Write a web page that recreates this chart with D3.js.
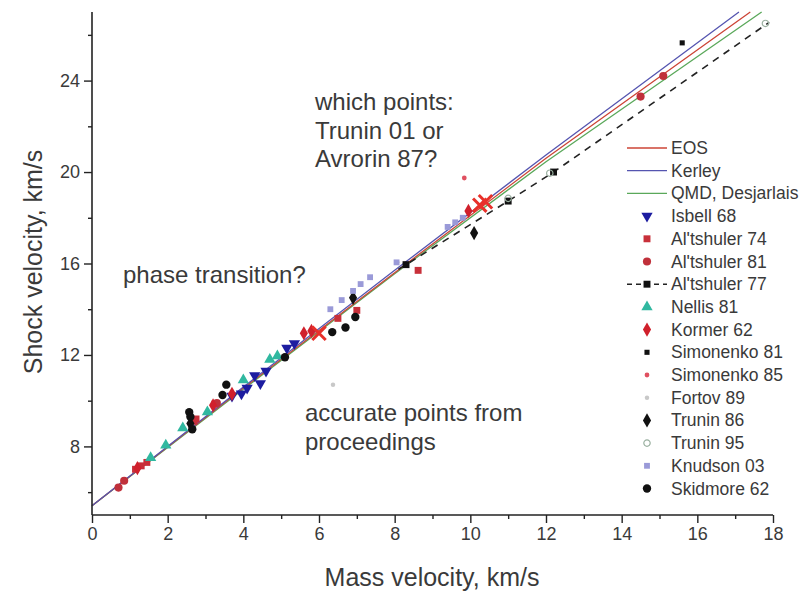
<!DOCTYPE html>
<html lang="en">
<head>
<meta charset="UTF-8">
<title>Shock velocity vs mass velocity</title>
<script src="https://d3js.org/d3.v7.min.js"></script>
<style>
  body { margin: 0; background: #fff; }
  svg text { font-family: "Liberation Sans", Arial, sans-serif; fill: #3a3a3a; }
</style>
</head>
<body>
<div id="chart"></div>
<script>
// ---- data (mass velocity u, shock velocity Us), km/s ----
var xTicks = [0, 2, 4, 6, 8, 10, 12, 14, 16, 18];
var xMinor = [1, 3, 5, 7, 9, 11, 13, 15, 17];
var yTicks = [8, 12, 16, 20, 24];
var yMinor = [6, 10, 14, 18, 22, 26];

// model curves
var eosU = [0, 4, 8, 12, 17.4];
var eosUs = [5.4, 10.55, 15.6, 20.6, 27.0];
var kerleyU = [0, 4, 8, 12, 17.1];
var kerleyUs = [5.4, 10.6, 15.7, 20.75, 27.0];
var qmdU = [0, 4, 8, 12, 17.7];
var qmdUs = [5.4, 10.5, 15.55, 20.45, 27.0];

// experiments
var isbellU = [3.7, 3.95, 4.1, 4.45, 4.3, 4.6, 5.15, 5.35];
var isbellUs = [10.2, 10.3, 10.55, 10.75, 11.1, 11.3, 12.3, 12.5];
var alt74U = [1.15, 1.3, 1.45, 2.7, 2.75, 3.25, 6.5, 7.0, 8.62];
var alt74Us = [7.0, 7.15, 7.3, 9.1, 9.2, 9.85, 13.6, 13.95, 15.7];
var alt81U = [0.7, 0.85, 3.3, 14.5, 15.1];
var alt81Us = [6.2, 6.5, 9.9, 23.3, 24.2];
var alt77U = [8.3, 11.0, 12.2];
var alt77Us = [15.95, 18.73, 20.0];
var alt77LineU = [8.1, 8.3, 11.0, 12.2, 17.9];
var alt77LineUs = [15.75, 15.95, 18.73, 20.0, 26.55];
var nellisU = [1.55, 1.95, 2.4, 3.05, 4.0, 4.7, 4.9];
var nellisUs = [7.5, 8.05, 8.8, 9.5, 10.9, 11.8, 11.95];
var kormerU = [1.2, 3.2, 3.7, 5.6, 5.8, 9.95];
var kormerUs = [7.05, 9.8, 10.3, 12.95, 13.05, 18.3];
var simon81U = [15.6];
var simon81Us = [25.65];
var simon85U = [9.84];
var simon85Us = [19.74];
var fortovU = [6.37, 8.07];
var fortovUs = [10.7, 16.05];
var trunin86U = [2.6, 6.9, 10.1];
var trunin86Us = [9.0, 14.5, 17.33];
var trunin95U = [11.0, 12.1, 17.8];
var trunin95Us = [18.85, 19.95, 26.5];
var knudsonU = [6.3, 6.6, 6.9, 7.1, 7.35, 8.05, 9.4, 9.6, 9.8];
var knudsonUs = [14.0, 14.4, 14.8, 15.1, 15.4, 16.05, 17.6, 17.8, 18.0];
var skidU = [2.57, 2.6, 2.65, 3.45, 3.55, 5.1, 6.35, 6.7, 6.96];
var skidUs = [9.5, 9.3, 8.75, 10.25, 10.7, 11.9, 13.0, 13.2, 13.66];
// X marks: Trunin 01 / Avrorin 87 (not in legend)
var crossU = [6.0, 10.25, 10.4];
var crossUs = [12.95, 18.55, 18.7];

function zip(a, b) { return a.map(function(d, i) { return [d, b[i]]; }); }

var width = 806, height = 594;
var svg = d3.select("#chart").append("svg")
    .attr("width", width)
    .attr("height", height);

var x = d3.scaleLinear().domain([0, 18]).range([92, 773]);
var y = d3.scaleLinear().domain([5, 27]).range([515, 12]);

var line = d3.line()
    .x(function(d) { return x(d[0]); })
    .y(function(d) { return y(d[1]); });

// model lines
var curves = [
  { name: "QMD, Desjarlais", color: "#5aa85a", pts: zip(qmdU, qmdUs) },
  { name: "EOS", color: "#cc4436", pts: zip(eosU, eosUs) },
  { name: "Kerley", color: "#5555b0", pts: zip(kerleyU, kerleyUs) }
];
curves.forEach(function(c) {
  svg.append("path")
    .attr("d", line(c.pts))
    .attr("fill", "none")
    .attr("stroke", c.color)
    .attr("stroke-width", 1.3);
});

svg.append("path")
  .attr("d", line(zip(alt77LineU, alt77LineUs)))
  .attr("fill", "none")
  .attr("stroke", "#222")
  .attr("stroke-width", 1.6)
  .attr("stroke-dasharray", "7,6");

// point series
var series = [
  { name: "Isbell 68", sym: d3.symbolTriangle, rot: 180, size: 55, fill: "#1c1ca0", u: isbellU, us: isbellUs },
  { name: "Al'tshuler 74", sym: d3.symbolSquare, size: 48, fill: "#c8303a", u: alt74U, us: alt74Us },
  { name: "Al'tshuler 81", sym: d3.symbolCircle, size: 52, fill: "#c0303a", u: alt81U, us: alt81Us },
  { name: "Al'tshuler 77", sym: d3.symbolSquare, size: 48, fill: "#111", u: alt77U, us: alt77Us, dashed: true },
  { name: "Nellis 81", sym: d3.symbolTriangle, size: 55, fill: "#30b8a0", u: nellisU, us: nellisUs },
  { name: "Kormer 62", sym: d3.symbolDiamond, size: 58, fill: "#d0202c", u: kormerU, us: kormerUs },
  { name: "Simonenko 81", sym: d3.symbolSquare, size: 26, fill: "#111", u: simon81U, us: simon81Us },
  { name: "Simonenko 85", sym: d3.symbolCircle, size: 18, fill: "#e05060", u: simon85U, us: simon85Us },
  { name: "Fortov 89", sym: d3.symbolCircle, size: 16, fill: "#c8c8c8", u: fortovU, us: fortovUs },
  { name: "Trunin 86", sym: d3.symbolDiamond, size: 58, fill: "#111", u: trunin86U, us: trunin86Us },
  { name: "Trunin 95", sym: d3.symbolCircle, size: 32, fill: "none", stroke: "#9ab0a0", u: trunin95U, us: trunin95Us },
  { name: "Knudson 03", sym: d3.symbolSquare, size: 34, fill: "#9a9ad8", u: knudsonU, us: knudsonUs },
  { name: "Skidmore 62", sym: d3.symbolCircle, size: 55, fill: "#111", u: skidU, us: skidUs }
];

function drawSym(g, s, px, py) {
  g.append("path")
    .attr("d", d3.symbol().type(s.sym).size(s.size)())
    .attr("transform", "translate(" + px + "," + py + ")" + (s.rot ? " rotate(" + s.rot + ")" : ""))
    .attr("fill", s.fill)
    .attr("stroke", s.stroke || "none")
    .attr("stroke-width", 1.2);
}

var pts = svg.append("g");
series.forEach(function(s) {
  s.u.forEach(function(u, i) { drawSym(pts, s, x(u), y(s.us[i])); });
});

// X marks
crossU.forEach(function(u, i) {
  pts.append("path")
    .attr("d", d3.symbol().type(d3.symbolX).size(120)())
    .attr("transform", "translate(" + x(u) + "," + y(crossUs[i]) + ")")
    .attr("fill", "none")
    .attr("stroke", "#e8302a")
    .attr("stroke-width", 3);
});

// axes
var xAxis = svg.append("g").attr("transform", "translate(0," + y(5) + ")")
  .call(d3.axisBottom(x).tickValues(xTicks).tickSize(8).tickPadding(4));
svg.append("g").attr("transform", "translate(0," + y(5) + ")")
  .call(d3.axisBottom(x).tickValues(xMinor).tickSize(4).tickFormat(""))
  .select(".domain").remove();
var yAxis = svg.append("g").attr("transform", "translate(" + x(0) + ",0)")
  .call(d3.axisLeft(y).tickValues(yTicks).tickSize(8).tickPadding(4));
svg.append("g").attr("transform", "translate(" + x(0) + ",0)")
  .call(d3.axisLeft(y).tickValues(yMinor).tickSize(4).tickFormat(""))
  .select(".domain").remove();

svg.selectAll(".domain").attr("stroke", "#222").attr("stroke-width", 1.6);
xAxis.select(".domain").attr("d", "M" + x(0) + ",0H" + x(18));
yAxis.select(".domain").attr("d", "M0," + y(5) + "V" + y(27));
svg.selectAll(".tick line").attr("stroke", "#222").attr("stroke-width", 1.4);
svg.selectAll(".tick text").attr("font-size", 18).attr("fill", "#444");

// axis titles
svg.append("text")
  .attr("x", 432).attr("y", 586)
  .attr("text-anchor", "middle")
  .attr("font-size", 25)
  .text("Mass velocity, km/s");
svg.append("text")
  .attr("transform", "translate(42,262) rotate(-90)")
  .attr("text-anchor", "middle")
  .attr("font-size", 25)
  .text("Shock velocity, km/s");

// annotations
var notes = [
  { x: 315, y: 110, t: "which points:" },
  { x: 315, y: 139, t: "Trunin 01 or" },
  { x: 315, y: 167, t: "Avrorin 87?" },
  { x: 123, y: 283, t: "phase transition?" },
  { x: 305, y: 421, t: "accurate points from" },
  { x: 305, y: 450, t: "proceedings" }
];
notes.forEach(function(n) {
  svg.append("text").attr("x", n.x).attr("y", n.y)
    .attr("font-size", 24).attr("fill", "#333").text(n.t);
});

// legend
var leg = svg.append("g");
var ly0 = 148, ldy = 22.7;
var legCurves = [curves[1], curves[2], curves[0]];
legCurves.forEach(function(c, i) {
  var yy = ly0 + i * ldy;
  leg.append("line").attr("x1", 627).attr("x2", 667).attr("y1", yy).attr("y2", yy)
    .attr("stroke", c.color).attr("stroke-width", 1.3);
  leg.append("text").attr("x", 671).attr("y", yy + 6).attr("font-size", 17.5).text(c.name);
});
series.forEach(function(s, i) {
  var yy = ly0 + (i + 3) * ldy;
  if (s.dashed) {
    leg.append("line").attr("x1", 627).attr("x2", 667).attr("y1", yy).attr("y2", yy)
      .attr("stroke", "#222").attr("stroke-width", 1.4).attr("stroke-dasharray", "5,4");
  }
  drawSym(leg, s, 647, yy);
  leg.append("text").attr("x", 671).attr("y", yy + 6).attr("font-size", 17.5).text(s.name);
});
</script>
</body>
</html>
